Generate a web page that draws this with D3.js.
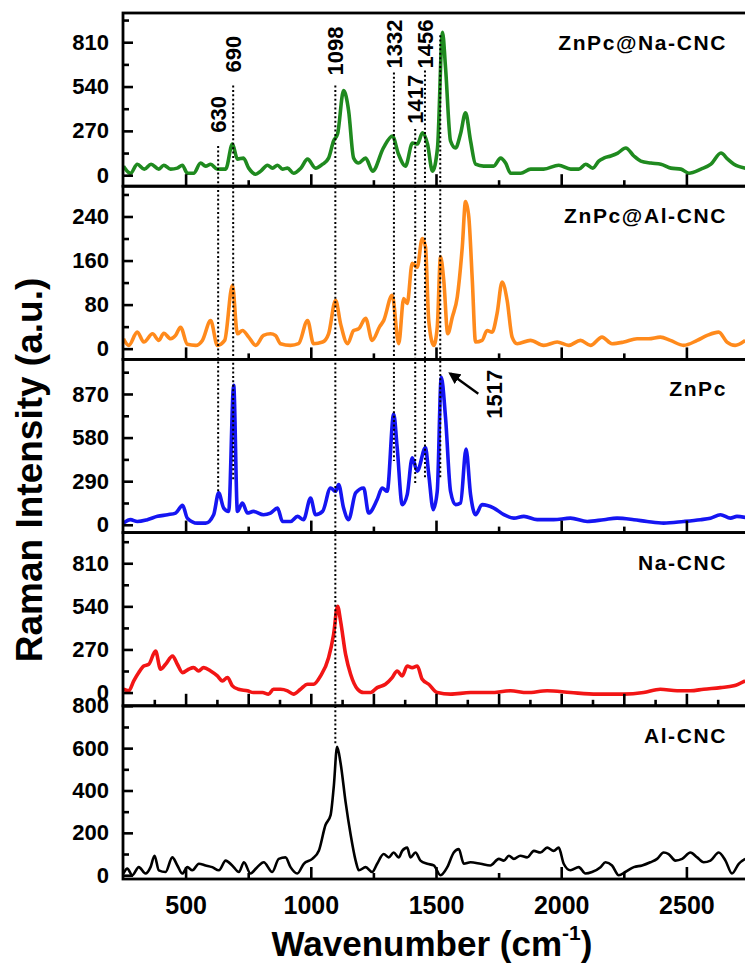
<!DOCTYPE html>
<html>
<head>
<meta charset="utf-8">
<script src="https://cdn.jsdelivr.net/npm/d3@7"></script>
<style>
    body { margin: 0; background: #ffffff; }
    text { font-family: "Liberation Sans", Arial, sans-serif; font-weight: bold; fill: #000; }
</style>
</head>
<body>
<svg id="chart" width="745" height="969"></svg>
<script>
/* **************************************************************** *
 *   Data  (wavenumber cm-1, intensity a.u.)
 * **************************************************************** */
const znpcNaCnc = [
    [252,55],[280,12],[307,67],[335,37],[362,67],[393,37],[413,61],[440,37],[467,43],[487,61],
    [507,12],[532,12],[560,74],[580,55],[600,67],[627,37],[660,37],[687,190],[707,98],[731,104],
    [752,43],[780,6],[800,25],[827,61],[847,43],[867,61],[887,37],[907,43],[931,12],[960,43],
    [987,98],[1019,43],[1047,67],[1071,104],[1091,209],[1107,252],[1131,515],[1151,393],[1171,104],
    [1191,74],[1219,104],[1247,25],[1290,166],[1326,239],[1350,129],[1378,55],[1406,196],[1426,190],
    [1446,258],[1466,190],[1486,25],[1506,166],[1526,871],[1538,657],[1558,209],[1578,166],[1598,252],
    [1618,380],[1638,209],[1658,67],[1690,55],[1730,55],[1758,104],[1778,74],[1798,12],[1838,12],
    [1878,37],[1930,37],[1990,61],[2038,37],[2070,37],[2098,67],[2126,43],[2150,86],[2170,104],
    [2198,117],[2226,135],[2258,166],[2290,117],[2318,86],[2358,74],[2398,67],[2438,43],[2478,37],
    [2510,12],[2558,37],[2598,67],[2638,135],[2665,98],[2690,67],[2736,43]
];
const znpcAlCnc = [
    [252,18],[273,6],[307,30],[333,12],[368,27],[393,15],[413,28],[440,18],[460,24],[480,39],
    [507,8],[540,6],[567,15],[600,51],[627,6],[656,15],[687,115],[707,27],[727,33],[752,21],
    [780,6],[811,24],[839,27],[859,24],[879,9],[919,6],[951,9],[987,51],[1011,9],[1047,12],
    [1071,27],[1099,88],[1119,45],[1147,9],[1171,33],[1191,36],[1219,55],[1245,15],[1275,40],
    [1291,51],[1325,97],[1351,9],[1371,91],[1385,82],[1405,155],[1425,148],[1445,200],[1458,185],
    [1471,51],[1491,6],[1505,39],[1518,167],[1531,124],[1547,27],[1565,57],[1585,94],[1605,185],
    [1618,267],[1631,239],[1645,124],[1658,12],[1684,15],[1704,33],[1724,30],[1744,64],[1764,121],
    [1784,88],[1804,21],[1824,9],[1877,15],[1930,6],[1984,12],[2030,6],[2077,15],[2117,6],
    [2163,21],[2203,9],[2250,12],[2303,18],[2349,18],[2396,21],[2436,15],[2489,6],[2543,15],
    [2583,24],[2629,30],[2662,12],[2695,6],[2735,15]
];
const znpc = [
    [252,11],[280,34],[307,22],[347,34],[388,56],[428,67],[460,78],[488,129],[507,44],[547,11],
    [580,11],[612,67],[632,212],[652,111],[672,89],[692,927],[707,89],[727,145],[747,78],[771,89],
    [811,67],[839,78],[867,111],[887,22],[919,22],[947,56],[971,34],[999,178],[1019,67],[1047,89],
    [1079,245],[1099,223],[1111,268],[1131,111],[1151,34],[1179,212],[1211,245],[1231,78],[1265,168],
    [1285,245],[1305,223],[1331,737],[1345,513],[1365,134],[1385,201],[1405,446],[1425,357],[1458,513],
    [1471,335],[1489,101],[1505,223],[1521,982],[1538,714],[1558,223],[1578,134],[1598,145],[1620,503],
    [1638,201],[1658,67],[1684,134],[1731,111],[1771,67],[1811,44],[1851,56],[1904,34],[1970,34],
    [2037,44],[2104,22],[2170,34],[2223,44],[2290,34],[2343,22],[2409,11],[2489,22],[2556,34],
    [2596,44],[2636,67],[2676,44],[2702,56],[2735,49]
];
const naCnc = [
    [252,21],[273,11],[293,73],[313,125],[333,166],[353,177],[380,260],[400,146],[420,177],[448,229],
    [467,177],[488,125],[512,146],[532,156],[552,135],[572,156],[600,135],[627,104],[647,73],[667,94],
    [687,42],[711,21],[747,11],[771,0],[807,0],[831,-10],[851,21],[879,21],[907,11],[931,-10],
    [959,21],[987,52],[1011,52],[1039,104],[1071,218],[1091,364],[1107,541],[1119,447],[1139,239],
    [1159,115],[1187,21],[1211,0],[1239,0],[1265,31],[1298,52],[1325,94],[1345,135],[1365,104],
    [1385,166],[1405,156],[1425,166],[1445,83],[1471,52],[1505,0],[1558,-10],[1638,0],[1718,0],
    [1797,11],[1864,0],[1944,11],[2037,0],[2143,-10],[2250,-10],[2329,0],[2396,21],[2463,11],
    [2516,11],[2569,21],[2636,31],[2689,42],[2735,73]
];
const alCnc = [
    [252,8],[267,31],[287,0],[313,38],[340,8],[360,38],[376,92],[393,23],[420,15],[447,84],
    [467,46],[487,8],[507,38],[527,23],[553,54],[580,46],[606,38],[633,23],[660,69],[686,46],
    [713,15],[733,61],[759,8],[786,38],[812,61],[846,15],[872,77],[899,84],[919,38],[946,8],
    [972,54],[1006,77],[1032,115],[1059,238],[1079,284],[1092,422],[1105,606],[1119,529],[1139,345],
    [1159,192],[1179,69],[1192,23],[1219,38],[1245,15],[1265,54],[1291,100],[1311,84],[1331,107],
    [1351,84],[1365,115],[1385,130],[1398,84],[1418,107],[1438,69],[1465,54],[1491,46],[1518,0],
    [1545,38],[1571,107],[1591,123],[1611,54],[1638,61],[1678,54],[1717,46],[1751,77],[1771,69],
    [1791,92],[1811,77],[1837,92],[1864,84],[1891,115],[1917,107],[1944,130],[1970,115],[1990,130],
    [2010,54],[2037,23],[2070,38],[2097,8],[2123,15],[2157,38],[2177,61],[2203,46],[2230,0],
    [2256,15],[2290,38],[2323,46],[2356,61],[2383,77],[2409,107],[2429,100],[2456,69],[2483,77],
    [2516,107],[2543,84],[2569,61],[2596,69],[2629,107],[2656,69],[2682,8],[2709,54],[2735,77]
];

const seriesList   = [znpcNaCnc, znpcAlCnc, znpc, naCnc, alCnc];
const panelNames   = ['ZnPc@Na-CNC', 'ZnPc@Al-CNC', 'ZnPc', 'Na-CNC', 'Al-CNC'];
const panelColors  = ['#1f8a1f', '#ff8a1c', '#1515f2', '#f21515', '#000000'];
const panelDomains = [[-67, 988], [-19.5, 295], [-52, 1100], [-83, 1002], [-18, 800]];
const panelTicks   = [[0, 270, 540, 810], [0, 80, 160, 240], [0, 290, 580, 870], [0, 270, 540, 810], [0, 200, 400, 600, 800]];
const xDomain      = [250, 2750];
const xTicks       = [500, 1000, 1500, 2000, 2500];

// peak markers: wavenumber, line top / bottom as [panel, intensity], label base as [panel, intensity]
const peakMarks = [
    { wn: 630,  label: '630',  top: [0, 178], bottom: [2, 210], text: [0, 258] },
    { wn: 690,  label: '690',  top: [0, 546], bottom: [2, 290], text: [0, 626] },
    { wn: 1098, label: '1098', top: [0, 546], bottom: [4, 621], text: [0, 607] },
    { wn: 1332, label: '1332', top: [0, 626], bottom: [2, 424], text: [0, 650] },
    { wn: 1417, label: '1417', top: [0, 282], bottom: [2, 270], text: [0, 313] },
    { wn: 1456, label: '1456', top: [0, 638], bottom: [2, 310], text: [0, 650] },
    { wn: 1517, label: '',     top: [0, 853], bottom: [2, 304], text: null }
];
// arrow note for 1517 in the ZnPc panel
const arrowNote = { label: '1517', panel: 2, text: [1733, 705], from: [1669, 872], to: [1557, 1006] };

/* **************************************************************** *
 *   Layout
 * **************************************************************** */
const plot = { left: 123, right: 749, top: 13, panelH: 173.2 };

const svg = d3.select('#chart');
const x = d3.scaleLinear().domain(xDomain).range([plot.left, plot.right]);

const panels = seriesList.map((data, i) => {
    let top = plot.top + i * plot.panelH;
    let y = d3.scaleLinear().domain(panelDomains[i]).range([top + plot.panelH, top]);
    return { i: i, data: data, top: top, y: y };
});

let defs = svg.append('defs');
panels.forEach((p) => {
    defs.append('clipPath').attr('id', 'clip' + p.i)
        .append('rect')
        .attr('x', plot.left).attr('y', p.top)
        .attr('width', plot.right - plot.left).attr('height', plot.panelH);
});
defs.append('marker')
    .attr('id', 'arrowhead')
    .attr('viewBox', '0 0 10 10')
    .attr('refX', 8).attr('refY', 5)
    .attr('markerWidth', 5).attr('markerHeight', 5)
    .attr('orient', 'auto')
    .append('path').attr('d', 'M0,0 L10,5 L0,10 z').attr('fill', '#000');

/* **************************************************************** *
 *   Draw spectra
 * **************************************************************** */
panels.forEach((p) => {
    let line = d3.line()
        .x((d) => { return x(d[0]); })
        .y((d) => { return p.y(d[1]); })
        .curve(d3.curveMonotoneX);

    svg.append('path')
        .datum(p.data)
        .attr('clip-path', 'url(#clip' + p.i + ')')
        .attr('d', line)
        .attr('fill', 'none')
        .attr('stroke', panelColors[p.i])
        .attr('stroke-width', p.i == 4 ? 2.6 : 3.6)
        .attr('stroke-linejoin', 'round');
});

/* **************************************************************** *
 *   Axes + frames
 * **************************************************************** */
panels.forEach((p) => {
    let last = p.i == panels.length - 1;
    let ticks = panelTicks[p.i];
    let step = ticks[1] - ticks[0];
    let minor = d3.range(step / 2, panelDomains[p.i][1], step);

    // y axis, ticks pointing inward
    let gy = svg.append('g').attr('class', 'y-axis')
        .attr('transform', 'translate(' + plot.left + ',0)')
        .call(d3.axisLeft(p.y).tickValues(ticks).tickSizeInner(-10).tickSizeOuter(0).tickPadding(14));
    gy.selectAll('text').attr('font-size', 22).style('font-family', '"Liberation Sans", Arial, sans-serif').style('font-weight', 'bold');

    svg.append('g').attr('class', 'y-minor')
        .attr('transform', 'translate(' + plot.left + ',0)')
        .call(d3.axisLeft(p.y).tickValues(minor).tickSizeInner(-6).tickSizeOuter(0).tickFormat(() => ''));

    // x axis at panel bottom
    let bottom = p.top + plot.panelH;
    let xMinorStep = (p.i == 3) ? 125 : 250;
    let xMajorStep = (p.i == 3) ? 250 : 500;
    let xMajor = d3.range(500, xDomain[1], xMajorStep);
    let xMinor = d3.range(250 + xMinorStep, xDomain[1], xMinorStep).filter((v) => { return (v % xMajorStep) != 0; });

    let gx = svg.append('g').attr('class', 'x-axis')
        .attr('transform', 'translate(0,' + bottom + ')')
        .call(d3.axisBottom(x).tickValues(last ? xTicks : xMajor).tickSizeInner(-12).tickSizeOuter(0)
            .tickPadding(17).tickFormat((d) => { return last ? d : ''; }));
    gx.selectAll('text').attr('font-size', 25).style('font-family', '"Liberation Sans", Arial, sans-serif').style('font-weight', 'bold');

    svg.append('g').attr('class', 'x-minor')
        .attr('transform', 'translate(0,' + bottom + ')')
        .call(d3.axisBottom(x).tickValues(xMinor).tickSizeInner(-6).tickSizeOuter(0).tickFormat(() => ''));

    svg.selectAll('.y-axis .domain, .y-minor .domain, .x-axis .domain, .x-minor .domain').remove();

    // frame
    svg.append('rect')
        .attr('x', plot.left).attr('y', p.top)
        .attr('width', plot.right - plot.left).attr('height', plot.panelH)
        .attr('fill', 'none').attr('stroke', '#000').attr('stroke-width', 2.8);

    // panel name
    svg.append('text')
        .attr('x', 727).attr('y', p.top + 37)
        .attr('text-anchor', 'end')
        .attr('font-size', 21)
        .attr('letter-spacing', 1.6)
        .text(panelNames[p.i]);
});
svg.selectAll('.tick line').attr('stroke', '#000').attr('stroke-width', 2.6);

/* **************************************************************** *
 *   Peak markers
 * **************************************************************** */
let py = (ref) => { return panels[ref[0]].y(ref[1]); };

peakMarks.forEach((m) => {
    svg.append('line')
        .attr('x1', x(m.wn)).attr('x2', x(m.wn))
        .attr('y1', py(m.top)).attr('y2', py(m.bottom))
        .attr('stroke', '#000').attr('stroke-width', 2)
        .attr('stroke-dasharray', '2,2.4');

    if (m.text)
        svg.append('text')
            .attr('transform', 'translate(' + (x(m.wn) + 8) + ',' + py(m.text) + ') rotate(-90)')
            .attr('font-size', 22)
            .text(m.label);
});

let ay = panels[arrowNote.panel].y;
svg.append('line')
    .attr('x1', x(arrowNote.from[0])).attr('y1', ay(arrowNote.from[1]))
    .attr('x2', x(arrowNote.to[0])).attr('y2', ay(arrowNote.to[1]))
    .attr('stroke', '#000').attr('stroke-width', 2.4)
    .attr('marker-end', 'url(#arrowhead)');
svg.append('text')
    .attr('transform', 'translate(' + (x(arrowNote.text[0]) + 8) + ',' + ay(arrowNote.text[1]) + ') rotate(-90)')
    .attr('font-size', 22)
    .text(arrowNote.label);

/* **************************************************************** *
 *   Titles
 * **************************************************************** */
svg.append('text')
    .attr('transform', 'translate(42,470) rotate(-90)')
    .attr('text-anchor', 'middle')
    .attr('font-size', 37)
    .text('Raman Intensity (a.u.)');

let xt = svg.append('text')
    .attr('x', 432).attr('y', 956)
    .attr('text-anchor', 'middle')
    .attr('font-size', 35);
xt.append('tspan').text('Wavenumber (cm');
xt.append('tspan').attr('font-size', 21).attr('dy', -16).text('-1');
xt.append('tspan').attr('dy', 16).text(')');
</script>
</body>
</html>
